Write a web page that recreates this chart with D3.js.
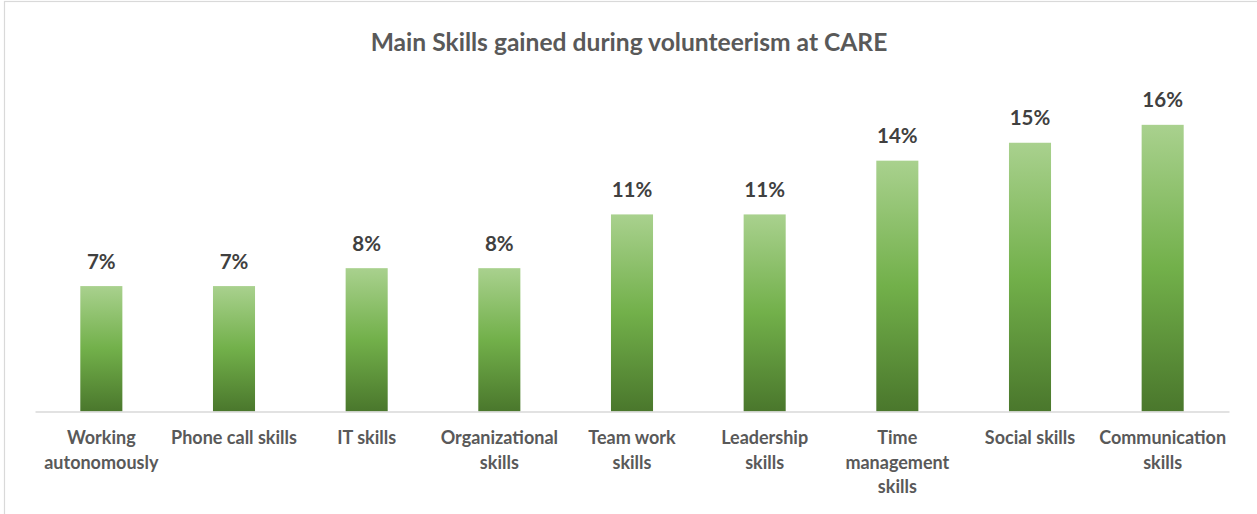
<!DOCTYPE html>
<html>
<head>
<meta charset="utf-8">
<script src="https://cdn.jsdelivr.net/npm/d3@7/dist/d3.min.js"></script>
<style>
  html, body { margin: 0; padding: 0; background: #fff; }
  svg { display: block; }
</style>
</head>
<body>
<svg id="chart" width="1257" height="514"></svg>
<script>
// Share of volunteers (%) naming each skill as gained at CARE
const categories = [
  ["Working", "autonomously"],
  ["Phone call skills"],
  ["IT skills"],
  ["Organizational", "skills"],
  ["Team work", "skills"],
  ["Leadership", "skills"],
  ["Time", "management", "skills"],
  ["Social skills"],
  ["Communication", "skills"]
];
const values = [7, 7, 8, 8, 11, 11, 14, 15, 16];
const valueLabels = ["7%", "7%", "8%", "8%", "11%", "11%", "14%", "15%", "16%"];
const title = "Main Skills gained during volunteerism at CARE";

const W = 1257, H = 514;
const plot = { left: 35, right: 1229, top: 89, bottom: 411.5 };
const font = "Lato, 'Open Sans', sans-serif";

const svg = d3.select("#chart");

// outer chart frame (runs past the right and bottom edges)
svg.append("rect")
  .attr("x", 4.5).attr("y", 1.5)
  .attr("width", 1400).attr("height", 700)
  .attr("fill", "#fff")
  .attr("stroke", "#d9d9d9").attr("stroke-width", 1.2);

const defs = svg.append("defs");
const grad = defs.append("linearGradient")
  .attr("id", "barGrad")
  .attr("x1", 0).attr("y1", 0).attr("x2", 0).attr("y2", 1);
grad.append("stop").attr("offset", "0%").attr("stop-color", "#a9d18e");
grad.append("stop").attr("offset", "50%").attr("stop-color", "#72b04a");
grad.append("stop").attr("offset", "100%").attr("stop-color", "#4a772c");

const idx = d3.range(values.length);

const x = d3.scaleBand()
  .domain(idx)
  .range([plot.left, plot.right])
  .paddingInner(0.683)
  .paddingOuter(0.683 / 2);

const y = d3.scaleLinear()
  .domain([0, 18])
  .range([plot.bottom, plot.top]);

// title
svg.append("text")
  .attr("x", 629).attr("y", 51)
  .attr("text-anchor", "middle")
  .attr("font-family", font)
  .attr("font-weight", 700)
  .attr("font-size", 24.6)
  .attr("fill", "#595959")
  .text(title);

// bars
svg.append("g")
  .selectAll("rect")
  .data(idx)
  .join("rect")
  .attr("x", i => x(i))
  .attr("width", x.bandwidth())
  .attr("y", i => y(values[i]))
  .attr("height", i => y(0) - y(values[i]))
  .attr("fill", "url(#barGrad)");

// value labels
svg.append("g")
  .selectAll("text")
  .data(idx)
  .join("text")
  .attr("x", i => x(i) + x.bandwidth() / 2)
  .attr("y", i => y(values[i]) - 17.5)
  .attr("text-anchor", "middle")
  .attr("font-family", font)
  .attr("font-weight", 700)
  .attr("font-size", 20.5)
  .attr("fill", "#404040")
  .text(i => valueLabels[i]);

// category axis
const xAxis = d3.axisBottom(x).tickSize(0).tickFormat("");
const axisG = svg.append("g")
  .attr("transform", `translate(0,${plot.bottom})`)
  .call(xAxis);
axisG.select(".domain").attr("stroke", "#d9d9d9").attr("stroke-width", 1.5);

const catG = svg.append("g");
idx.forEach(i => {
  const t = catG.append("text")
    .attr("x", x(i) + x.bandwidth() / 2)
    .attr("y", 444)
    .attr("text-anchor", "middle")
    .attr("font-family", font)
    .attr("font-weight", 700)
    .attr("font-size", 18)
    .attr("fill", "#595959");
  categories[i].forEach((line, k) => {
    t.append("tspan")
      .attr("x", x(i) + x.bandwidth() / 2)
      .attr("dy", k === 0 ? 0 : 24.5)
      .text(line);
  });
});
</script>
</body>
</html>
